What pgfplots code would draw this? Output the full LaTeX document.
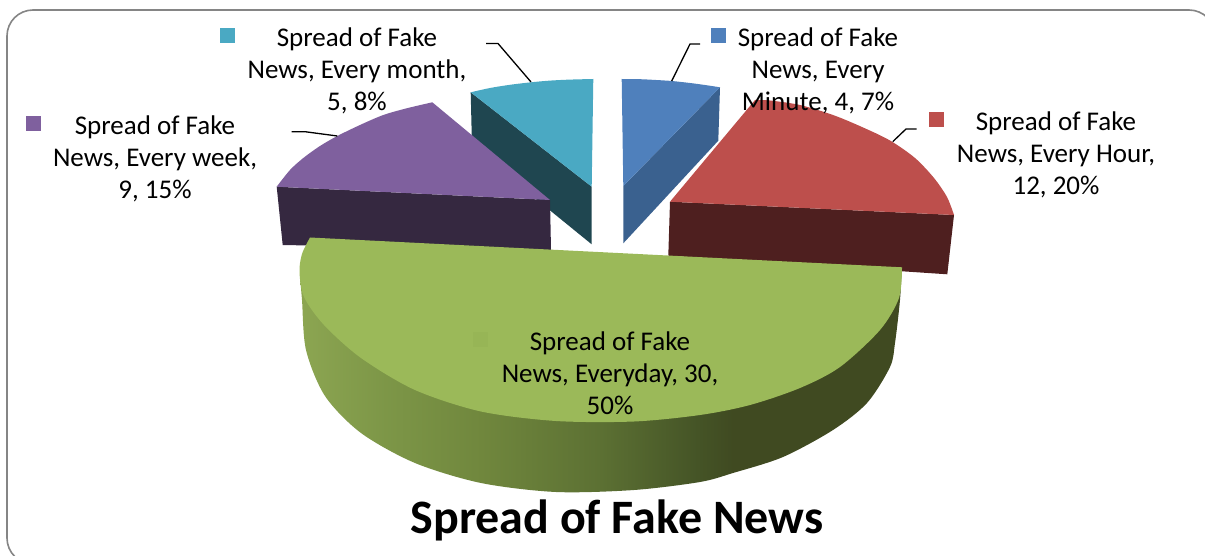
\documentclass[border=0pt]{standalone}
\usepackage{fontspec}
\setmainfont{Carlito}
\usepackage{pgfplots}
\pgfplotsset{compat=1.18}
\definecolor{tealT}{HTML}{4AA9C3}
\definecolor{tealS}{HTML}{1F4650}
\definecolor{blueT}{HTML}{4F80BC}
\definecolor{blueS}{HTML}{3A618F}
\definecolor{redT}{HTML}{BD4F4C}
\definecolor{redS}{HTML}{4E1F1F}
\definecolor{purT}{HTML}{7F609E}
\definecolor{purS}{HTML}{352840}
\definecolor{greT}{HTML}{9BB959}
\definecolor{greK}{HTML}{97B556}
\definecolor{framec}{HTML}{858585}
\pgfdeclarehorizontalshading{greenside}{100bp}{
 rgb(0bp)=(0.55,0.65,0.32);
 rgb(25bp)=(0.55,0.65,0.32);
 rgb(32bp)=(0.49,0.59,0.28);
 rgb(40bp)=(0.44,0.53,0.24);
 rgb(50bp)=(0.36,0.44,0.20);
 rgb(58bp)=(0.27,0.33,0.15);
 rgb(61bp)=(0.25,0.29,0.13);
 rgb(75bp)=(0.25,0.29,0.13);
 rgb(100bp)=(0.25,0.29,0.13)}
\newcommand{\lbl}{\fontsize{27}{32}\selectfont}
\begin{document}
\begin{tikzpicture}
\useasboundingbox (0,0) rectangle (1205pt,556pt);
\begin{axis}[at={(0,0)},anchor=south west,scale only axis,width=1205pt,height=556pt,
  xmin=0,xmax=1205,ymin=0,ymax=556,y dir=reverse,hide axis,clip=true]
% frame
\addplot[framec,line width=1.6pt,rounded corners=26pt] coordinates {(1215,300) (1215,10) (7,10) (7,564) (1215,564) (1215,300)};
% teal
\addplot[fill=tealS,draw=none] coordinates {(470.7,92.3) (591.7,186.7) (591.7,244.3) (472,147)} --cycle;
\addplot[fill=tealT,draw=none,smooth] coordinates {(470.7,92.3) (490,88) (510,84.8) (531,82.3) (550,80.6) (570,79.6) (593.3,79)} -- (axis cs:591.7,186.7) -- cycle;
% purple
\addplot[fill=purS,draw=none] coordinates {(276.7,186.7) (550,200) (551,250) (282.7,245)} --cycle;
\addplot[fill=purT,draw=none,smooth] coordinates {(276.7,186.7) (290,170) (303.3,158) (320,146) (337.3,136) (360,125) (383.3,115) (406.7,108.3) (432.3,102.3)} -- (axis cs:550,200) -- cycle;
% blue
\addplot[fill=blueS,draw=none] coordinates {(720,87.3) (623.3,186) (623.3,243.3) (718.3,140.7)} --cycle;
\addplot[fill=blueT,draw=none,smooth] coordinates {(621.7,79) (640,79.2) (656,80) (671.7,81) (690,83) (705,85) (720,87.3)} -- (axis cs:623.3,186) -- cycle;
% red
\addplot[fill=redS,draw=none] coordinates {(670,201.7) (954,215) (947.3,274.3) (668.3,255.7)} --cycle;
\addplot[fill=redT,draw=none,smooth] coordinates {(755,100) (770,100.5) (800,105) (833,115) (862,127) (890,140.5) (915,158) (934,178) (947,197) (954,215)} -- (axis cs:670,201.7) -- cycle;
% green
\addplot[draw=none,shade,shading=greenside,smooth] coordinates {(300,277) (302,300) (306,350) (325,396) (361,433) (415,463) (481,483) (556,492) (634,490) (700,482) (733,473) (783,457) (833,430) (867,403) (890,367) (895,343) (900,300) (901.7,268)} -- cycle;
\addplot[fill=greT,draw=none,smooth] coordinates {(902,267.3) (899,298) (880,330) (840,367) (800,388) (750,405) (700,415) (634,421.5) (556,421) (481,411.5) (415,390) (361,358) (324,325) (304,297) (299.5,272) (302,254) (310,237.5)} -- cycle;
% leaders
\addplot[black,line width=1.3pt] coordinates {(486,43.5) (498,43.5) (531,82)};
\addplot[black,line width=1.3pt] coordinates {(700,44) (690,44) (671.7,81)};
\addplot[black,line width=1.3pt] coordinates {(291.7,131.7) (305,131.7) (337.3,136)};
\addplot[black,line width=1.3pt] coordinates {(892.7,141.7) (906,129) (916.7,129)};
% legend keys
\addplot[fill=tealT,draw=none] coordinates {(220,28.3) (235,28.3) (235,43.3) (220,43.3)} --cycle;
\addplot[fill=purT,draw=none] coordinates {(26,116) (41,116) (41,131) (26,131)} --cycle;
\addplot[fill=blueT,draw=none] coordinates {(711,28) (726,28) (726,43) (711,43)} --cycle;
\addplot[fill=redT,draw=none] coordinates {(929,112) (944,112) (944,127) (929,127)} --cycle;
\addplot[fill=greK,draw=none] coordinates {(473,332) (488,332) (488,347) (473,347)} --cycle;
% labels
\node[align=center,font=\lbl] at (axis cs:357,71) {Spread of Fake\\News, Every month,\\5, 8\%};
\node[align=center,font=\lbl] at (axis cs:155,159) {Spread of Fake\\News, Every week,\\9, 15\%};
\node[align=center,font=\lbl] at (axis cs:818,71) {Spread of Fake\\News, Every\\Minute, 4, 7\%};
\node[align=center,font=\lbl] at (axis cs:1056,155) {Spread of Fake\\News, Every Hour,\\12, 20\%};
\node[align=center,font=\lbl] at (axis cs:610,373) {Spread of Fake\\News, Everyday, 30,\\50\%};
\node[font=\fontsize{48}{56}\selectfont\bfseries] at (axis cs:617,520) {Spread of Fake News};
\end{axis}
\end{tikzpicture}
\end{document}
